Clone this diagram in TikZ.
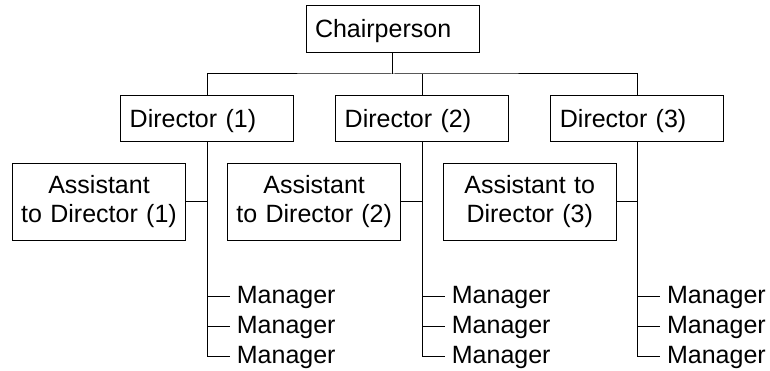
\documentclass[tikz,border=0pt]{standalone}
\usepackage{fontspec}
\setmainfont{Liberation Sans}
\newcommand\orgfont{\fontsize{25pt}{29pt}\selectfont}
\begin{document}
\begin{tikzpicture}[x=1pt,y=-1pt,
  box/.style={draw, line width=1pt, rectangle, inner ysep=0pt, font=\orgfont},
  dirbox/.style={box, inner xsep=9pt, text width=155pt, align=left, minimum height=46.5pt, text height=18pt, text depth=0pt},
  asbox/.style={box, inner xsep=0pt, text width=173pt, align=center, minimum height=77.5pt},
  mgr/.style={inner xsep=6.5pt, inner ysep=0pt, font=\orgfont, text height=15pt, text depth=0pt, anchor=west},
  link/.style={line width=1pt}]
\useasboundingbox (0,0) rectangle (770,371);
\node[dirbox] (chair) at (392.5,29) {Chairperson};
\node[dirbox] (d1) at (207.2,118.5) {Director (1)};
\node[dirbox] (d2) at (422.2,118.5) {Director (2)};
\node[dirbox] (d3) at (637.4,118.5) {Director (3)};
\node[asbox] (a1) at (99,202) {Assistant\\to Director (1)};
\node[asbox] (a2) at (314.2,202) {Assistant\\to Director (2)};
\node[asbox] (a3) at (529.7,202) {Assistant to\\Director (3)};
\foreach \c/\x in {1/230.2,2/445.2,3/660.4}{
  \node[mgr] (m\c1) at (\x,296) {Manager};
  \node[mgr] (m\c2) at (\x,326) {Manager};
  \node[mgr] (m\c3) at (\x,356) {Manager};
}
\coordinate (bus) at (392.5,74);
\draw[link] (chair.south) -- (bus);
\draw[link] (d1.north) |- (bus) -| (d3.north);
\draw[link] (d2.north) -- (d2.north |- bus);
\foreach \c in {1,2,3}{
  \draw[link] (d\c.south) |- (m\c3.west);
  \draw[link] (a\c.east) -- (a\c.east -| d\c.south);
  \draw[link] (m\c1.west -| d\c.south) -- (m\c1.west);
  \draw[link] (m\c2.west -| d\c.south) -- (m\c2.west);
}
\draw[line width=1.8pt] (d3.south) -- (d3.south |- a3.east);
\end{tikzpicture}
\end{document}
